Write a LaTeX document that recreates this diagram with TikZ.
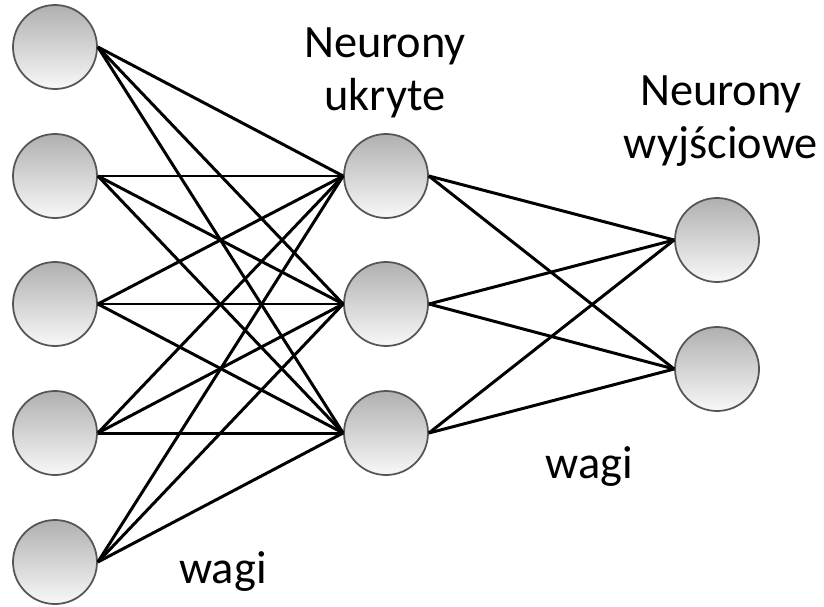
\documentclass[tikz,border=0pt]{standalone}
\usepackage{fontspec}
\setmainfont{Carlito}
\usepackage{tikz}
\definecolor{shadetop}{RGB}{176,176,176}
\definecolor{shadebot}{RGB}{248,248,248}
\definecolor{rim}{RGB}{85,85,85}

\begin{document}
\begin{tikzpicture}[neuron/.style={circle, minimum size=0.84cm, inner sep=0pt, draw=rim, line width=0.5pt, top color=shadetop, bottom color=shadebot},
    label/.style={font=\fontsize{13.2}{14.9}\selectfont, align=center, inner sep=0pt}]
            \useasboundingbox (0,0) rectangle (8.24,6.06);

            % wejscie
            \node[neuron] (i1) at (0.55,5.59){};
            \node[neuron] (i2) at (0.55,4.30){};
            \node[neuron] (i3) at (0.55,3.02){};
            \node[neuron] (i4) at (0.55,1.73){};
            \node[neuron] (i5) at (0.55,0.44){};

            % warstwa ukryta
            \node[neuron] (h1) at (3.86,4.30){};
            \node[neuron] (h2) at (3.86,3.02){};
            \node[neuron] (h3) at (3.86,1.73){};

            % wyjscie
            \node[neuron] (o1) at (7.17,3.66){};
            \node[neuron] (o2) at (7.17,2.37){};

            \node[label] (th) at (3.85,5.33){Neurony\\ukryte};
            \node[label] (to) at (7.21,4.85){Neurony\\wyjściowe};
            \node[label, anchor=base] (w1) at (2.23,0.23){wagi};
            \node[label, anchor=base] (w2) at (5.89,1.28){wagi};

            \draw[line width=0.85pt] (i1.east) -- (h1.west);
            \draw[line width=0.85pt] (i1.east) -- (h2.west);
            \draw[line width=0.85pt] (i1.east) -- (h3.west);
            \draw[line width=0.85pt] (i2.east) -- (h1.west);
            \draw[line width=0.85pt] (i2.east) -- (h2.west);
            \draw[line width=0.85pt] (i2.east) -- (h3.west);
            \draw[line width=0.85pt] (i3.east) -- (h1.west);
            \draw[line width=0.85pt] (i3.east) -- (h2.west);
            \draw[line width=0.85pt] (i3.east) -- (h3.west);
            \draw[line width=0.85pt] (i4.east) -- (h1.west);
            \draw[line width=0.85pt] (i4.east) -- (h2.west);
            \draw[line width=0.85pt] (i4.east) -- (h3.west);
            \draw[line width=0.85pt] (i5.east) -- (h1.west);
            \draw[line width=0.85pt] (i5.east) -- (h2.west);
            \draw[line width=0.85pt] (i5.east) -- (h3.west);

            \draw[line width=0.85pt] (h1.east) -- (o1.west);
            \draw[line width=0.85pt] (h1.east) -- (o2.west);
            \draw[line width=0.85pt] (h2.east) -- (o1.west);
            \draw[line width=0.85pt] (h2.east) -- (o2.west);
            \draw[line width=0.85pt] (h3.east) -- (o1.west);
            \draw[line width=0.85pt] (h3.east) -- (o2.west);
        \end{tikzpicture}
\end{document}
